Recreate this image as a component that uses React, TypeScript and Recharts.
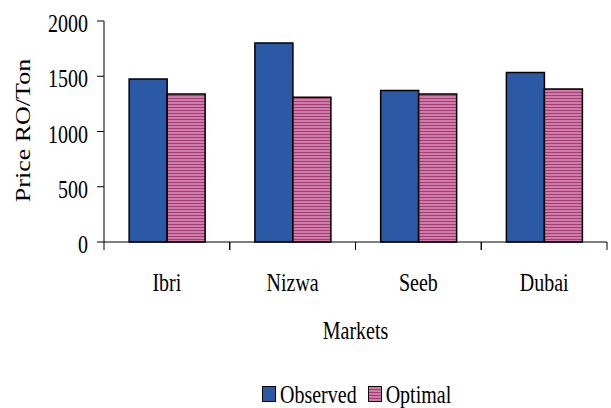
import React from 'react';
import { BarChart, Bar, XAxis, YAxis, Legend } from 'recharts';

const markets = ['Ibri', 'Nizwa', 'Seeb', 'Dubai'];
const observed = [1475, 1800, 1370, 1535];
const optimal = [1340, 1310, 1340, 1385];
const yTicks = [0, 500, 1000, 1500, 2000];
const seriesNames = ['Observed', 'Optimal'];

const data = markets.map((m, i) => ({ market: m, observed: observed[i], optimal: optimal[i] }));

const FONT = '"Liberation Serif", "Times New Roman", serif';
const BLUE = '#2C59A5';
const PINK_LIGHT = '#CF7CAA';
const PINK_DARK = '#A33D73';
const STRETCH = 1.3;

const XTick = (props: any) => {
  const { x, y, payload } = props;
  const half =
    payload && typeof payload.offset === 'number' && payload.offset > 0
      ? payload.offset
      : props.width / props.visibleTicksCount / 2;
  const lineTop = y - 10 - 8;
  const lineBottom = y - 10;
  return (
    <g>
      <line x1={x - half} x2={x - half} y1={lineTop} y2={lineBottom} stroke="#000" />
      <line x1={x + half} x2={x + half} y1={lineTop} y2={lineBottom} stroke="#000" />
      <text
        transform={`translate(${x},${y + 31}) scale(1,${STRETCH})`}
        textAnchor="middle"
        fontFamily={FONT}
        fontSize={20}
        fill="#000"
      >
        {payload.value}
      </text>
    </g>
  );
};

const YTick = (props: any) => {
  const { x, y, payload } = props;
  return (
    <text
      transform={`translate(${x},${y + 11}) scale(1,${STRETCH})`}
      textAnchor="end"
      fontFamily={FONT}
      fontSize={20}
      fill="#000"
    >
      {payload.value}
    </text>
  );
};

const XLabel = (props: any) => {
  const vb = props.viewBox || {};
  return (
    <text
      transform={`translate(${vb.x + vb.width / 2},${vb.y + 97}) scale(1,${STRETCH})`}
      textAnchor="middle"
      fontFamily={FONT}
      fontSize={20}
      fill="#000"
    >
      Markets
    </text>
  );
};

const YLabel = (props: any) => {
  const vb = props.viewBox || {};
  return (
    <text
      transform={`translate(30,${vb.y + vb.height / 2 - 1}) rotate(-90) scale(${STRETCH},1)`}
      textAnchor="middle"
      fontFamily={FONT}
      fontSize={20}
      fill="#000"
    >
      Price RO/Ton
    </text>
  );
};

const LegendContent = () => (
  <div
    style={{
      display: 'flex',
      alignItems: 'center',
      height: 24,
      fontFamily: FONT,
      fontSize: 20,
      color: '#000',
      whiteSpace: 'nowrap',
    }}
  >
    <span
      style={{
        display: 'inline-block',
        width: 12,
        height: 14,
        background: BLUE,
        border: '1px solid #000',
        marginRight: 4,
      }}
    />
    <span style={{ display: 'inline-block', transform: `scaleY(${STRETCH})`, marginRight: 11 }}>
      {seriesNames[0]}
    </span>
    <span
      style={{
        display: 'inline-block',
        width: 12,
        height: 14,
        border: '1px solid #000',
        marginRight: 4,
        background: `repeating-linear-gradient(to bottom, ${PINK_LIGHT} 0px, ${PINK_LIGHT} 2px, ${PINK_DARK} 2px, ${PINK_DARK} 3px)`,
      }}
    />
    <span style={{ display: 'inline-block', transform: `scaleY(${STRETCH})` }}>{seriesNames[1]}</span>
  </div>
);

export default function App() {
  return (
    <div style={{ position: 'absolute', left: 0, top: 0, width: 611, height: 408, background: '#fff' }}>
      <BarChart
        width={611}
        height={408}
        data={data}
        margin={{ top: 21, right: 4, left: 0, bottom: 0 }}
        barCategoryGap="20%"
        barGap={0}
      >
        <defs>
          <pattern id="pinkStripes" patternUnits="userSpaceOnUse" width={6} height={3}>
            <rect x={0} y={0} width={6} height={3} fill={PINK_LIGHT} />
            <rect x={0} y={2} width={6} height={1} fill={PINK_DARK} />
          </pattern>
        </defs>
        <XAxis
          dataKey="market"
          height={142}
          axisLine={{ stroke: '#000' }}
          tickLine={false}
          tickSize={8}
          tickMargin={10}
          interval={0}
          tick={<XTick />}
          label={<XLabel />}
        />
        <YAxis
          width={104}
          domain={[0, 2000]}
          ticks={yTicks}
          interval={0}
          axisLine={{ stroke: '#000' }}
          tickLine={{ stroke: '#000' }}
          tickSize={7}
          tickMargin={9}
          tick={<YTick />}
          label={<YLabel />}
        />
        <Legend
          verticalAlign="bottom"
          content={<LegendContent />}
          wrapperStyle={{ left: 262, top: 382, width: 'auto', height: 24 }}
        />
        <Bar
          dataKey="observed"
          name={seriesNames[0]}
          fill={BLUE}
          stroke="#000"
          strokeWidth={1.5}
          isAnimationActive={false}
        />
        <Bar
          dataKey="optimal"
          name={seriesNames[1]}
          fill="url(#pinkStripes)"
          stroke="#000"
          strokeWidth={1.5}
          isAnimationActive={false}
        />
      </BarChart>
    </div>
  );
}
